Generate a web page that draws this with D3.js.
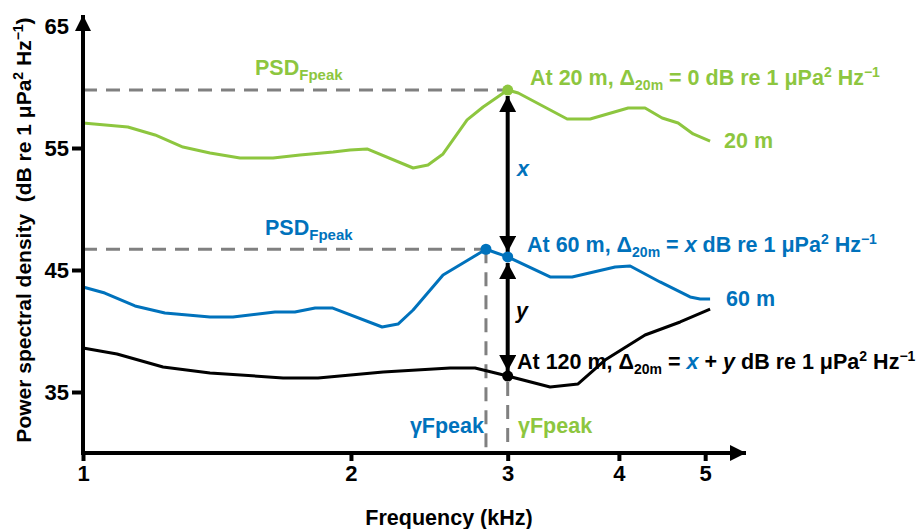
<!DOCTYPE html>
<html lang="en">
<head>
  <meta charset="UTF-8">
  <title>PSD vs frequency at three ranges</title>
  <script src="https://d3js.org/d3.v7.min.js"></script>
  <style>
    body { margin: 0; background: #fff; }
    svg { font-family: "Liberation Sans", Arial, sans-serif; font-weight: bold; }
    .tick text { font-size: 22px; font-weight: bold; fill: #000; }
    .curve { fill: none; stroke-width: 3px; stroke-linejoin: round; }
    .guide { stroke: #808080; stroke-width: 3px; stroke-dasharray: 14 9; }
  </style>
</head>
<body>
<svg width="921" height="529"></svg>
<script>
// frequency in kHz, PSD in dB re 1 uPa^2 Hz^-1
const freq20 = [1.0, 1.123, 1.205, 1.295, 1.389, 1.501, 1.635, 1.753, 1.910, 1.995, 2.085, 2.349, 2.441, 2.538, 2.701, 2.815, 3.0, 3.083, 3.499, 3.713, 4.097, 4.280, 4.473, 4.662, 4.847, 5.064];
const psd20 = [57.05, 56.72, 56.07, 55.08, 54.59, 54.18, 54.18, 54.43, 54.67, 54.84, 54.92, 53.36, 53.61, 54.51, 57.30, 58.36, 59.75, 59.51, 57.38, 57.38, 58.28, 58.28, 57.46, 57.05, 56.15, 55.57];

const freq60 = [1.0, 1.058, 1.144, 1.236, 1.389, 1.474, 1.643, 1.730, 1.823, 1.905, 2.168, 2.259, 2.349, 2.538, 2.673, 2.836, 3.0, 3.348, 3.544, 3.961, 4.118, 4.449, 4.809, 4.935, 5.064];
const psd60 = [43.61, 43.11, 42.05, 41.48, 41.15, 41.15, 41.56, 41.56, 41.89, 41.89, 40.33, 40.57, 41.72, 44.59, 45.57, 46.7, 46.07, 44.43, 44.43, 45.25, 45.33, 44.02, 42.79, 42.62, 42.62];

const freq120 = [1.0, 1.092, 1.230, 1.389, 1.678, 1.837, 2.174, 2.585, 2.757, 3.0, 3.348, 3.599, 3.859, 4.280, 4.687, 5.064];
const psd120 = [38.61, 38.11, 37.05, 36.56, 36.15, 36.15, 36.64, 36.97, 36.97, 36.31, 35.41, 35.66, 37.62, 39.67, 40.74, 41.80];

// peak of 20 m (Fpeak) and 60 m peak, plus levels at the 20 m Fpeak
const peak20 = { f: 3.0, v: 59.75 };
const peak60 = { f: 2.836, v: 46.7 };
const at60 = { f: 3.0, v: 46.07 };
const at120 = { f: 3.0, v: 36.31 };

const xTicks = [1, 2, 3, 4, 5];
const yTicks = [35, 45, 55, 65];

const green = "#8dc63f", blue = "#0072bc";

const svg = d3.select("svg");

const x = d3.scaleLog().domain([1, 5.557]).range([83, 746]);
const y = d3.scaleLinear().domain([30, 65]).range([453, 26]);

// arrowheads
const defs = svg.append("defs");
function marker(id, w, h) {
  defs.append("marker")
    .attr("id", id)
    .attr("viewBox", `0 0 ${h} ${w}`)
    .attr("refX", h).attr("refY", w / 2)
    .attr("markerWidth", h).attr("markerHeight", w)
    .attr("markerUnits", "userSpaceOnUse")
    .attr("orient", "auto-start-reverse")
    .append("path")
    .attr("d", `M0,0L${h},${w / 2}L0,${w}Z`)
    .attr("fill", "#000");
}
marker("axisHead", 16, 16);
marker("dimHead", 17, 16);

// dashed guides
svg.append("line").attr("class", "guide")
  .attr("x1", x(1)).attr("x2", x(peak20.f)).attr("y1", y(peak20.v)).attr("y2", y(peak20.v));
svg.append("line").attr("class", "guide")
  .attr("x1", x(1)).attr("x2", x(peak60.f)).attr("y1", y(peak60.v)).attr("y2", y(peak60.v));
svg.append("line").attr("class", "guide")
  .attr("x1", x(peak60.f)).attr("x2", x(peak60.f)).attr("y1", y(peak60.v)).attr("y2", y(30));
svg.append("line").attr("class", "guide")
  .attr("x1", x(at120.f)).attr("x2", x(at120.f)).attr("y1", y(at120.v) + 6).attr("y2", y(30));

// curves
const line = d3.line().x(d => x(d[0])).y(d => y(d[1]));
[[freq20, psd20, green], [freq60, psd60, blue], [freq120, psd120, "#000"]].forEach(s => {
  svg.append("path")
    .attr("class", "curve")
    .attr("stroke", s[2])
    .attr("d", line(d3.zip(s[0], s[1])));
});

// double arrows x and y
function dimArrow(a, b) {
  svg.append("line")
    .attr("x1", x(a.f)).attr("x2", x(b.f))
    .attr("y1", y(a.v) - 5).attr("y2", y(b.v) + 6)
    .attr("stroke", "#000").attr("stroke-width", 4)
    .attr("marker-start", "url(#dimHead)")
    .attr("marker-end", "url(#dimHead)");
}
dimArrow(at60, peak20);
dimArrow(at120, at60);

// dots
[[peak20, green], [peak60, blue], [at60, blue], [at120, "#000"]].forEach(p => {
  svg.append("circle")
    .attr("cx", x(p[0].f)).attr("cy", y(p[0].v)).attr("r", 5.5)
    .attr("fill", p[1]);
});

// axes
const xAxis = svg.append("g")
  .attr("transform", `translate(0,${y(30)})`)
  .call(d3.axisBottom(x).tickValues(xTicks).tickFormat(d3.format("d")).tickSize(8).tickPadding(4).tickSizeOuter(0));
xAxis.select(".domain").remove();
xAxis.selectAll(".tick line").attr("stroke-width", 4);

const yAxis = svg.append("g")
  .attr("transform", `translate(${x(1)},0)`)
  .call(d3.axisLeft(y).tickValues(yTicks).tickSize(11).tickPadding(3).tickSizeOuter(0));
yAxis.select(".domain").remove();
yAxis.selectAll(".tick line").attr("stroke-width", 4);
yAxis.selectAll(".tick").filter(d => d === 65).select("line").remove();

svg.append("line")
  .attr("x1", x(1) - 2).attr("x2", 746).attr("y1", y(30)).attr("y2", y(30))
  .attr("stroke", "#000").attr("stroke-width", 4)
  .attr("marker-end", "url(#axisHead)");
svg.append("line")
  .attr("x1", x(1)).attr("x2", x(1)).attr("y1", y(30) + 2).attr("y2", 15)
  .attr("stroke", "#000").attr("stroke-width", 4)
  .attr("marker-end", "url(#axisHead)");

// axis titles
svg.append("text")
  .attr("x", 449).attr("y", 525)
  .attr("text-anchor", "middle").attr("font-size", 21.5)
  .text("Frequency (kHz)");

const yt = svg.append("text")
  .attr("transform", "translate(31,230) rotate(-90)")
  .attr("text-anchor", "middle").attr("font-size", 21)
  .attr("xml:space", "preserve");
yt.append("tspan").text("Power spectral density  (dB re 1 \u03bcPa");
yt.append("tspan").attr("font-size", 14).attr("dy", -8).text("2");
yt.append("tspan").attr("dy", 8).text(" Hz");
yt.append("tspan").attr("font-size", 14).attr("dy", -8).text("\u22121");
yt.append("tspan").attr("dy", 8).text(")");

// annotations; parts = [text, kind, colour]
function rich(px, py, color, parts) {
  const t = svg.append("text").attr("x", px).attr("y", py)
    .attr("font-size", 21.5).attr("fill", color).attr("xml:space", "preserve");
  let shift = 0;
  parts.forEach(p => {
    const [txt, kind, col] = p;
    const target = kind === "sub" ? 5 : kind === "sup" ? -8 : 0;
    const sp = t.append("tspan").attr("dy", target - shift).text(txt);
    shift = target;
    if (kind === "sub" || kind === "sup") sp.attr("font-size", 14);
    if (kind === "it") sp.attr("font-style", "italic");
    if (col) sp.attr("fill", col);
  });
}

const unit = [[" dB re 1 \u03bcPa"], ["2", "sup"], [" Hz"], ["\u22121", "sup"]];

rich(530, 85, green, [["At 20 m, \u0394"], ["20m", "sub"], [" = 0"]].concat(unit));
rich(527, 252, blue, [["At 60 m, \u0394"], ["20m", "sub"], [" = "], ["x", "it"]].concat(unit));
rich(517, 369, "#000", [["At 120 m, \u0394"], ["20m", "sub"], [" = "], ["x", "it", blue], [" + "], ["y", "it"]].concat(unit));

rich(255, 75, green, [["PSD"], ["Fpeak", "sub"]]);
rich(265, 235, blue, [["PSD"], ["Fpeak", "sub"]]);
svg.selectAll("text tspan").filter(function () { return d3.select(this).text() === "Fpeak"; })
  .attr("font-size", 15);

rich(517, 176, blue, [["x", "it"]]);
rich(516, 318, "#000", [["y", "it"]]);

svg.append("text").attr("x", 724).attr("y", 148).attr("font-size", 21.5).attr("fill", green).text("20 m");
svg.append("text").attr("x", 726).attr("y", 306).attr("font-size", 21.5).attr("fill", blue).text("60 m");

svg.append("text").attr("x", 484).attr("y", 433).attr("text-anchor", "end")
  .attr("font-size", 21.5).attr("fill", blue).text("\u03b3Fpeak");
svg.append("text").attr("x", 518).attr("y", 433)
  .attr("font-size", 21.5).attr("fill", green).text("\u03b3Fpeak");
</script>
</body>
</html>
